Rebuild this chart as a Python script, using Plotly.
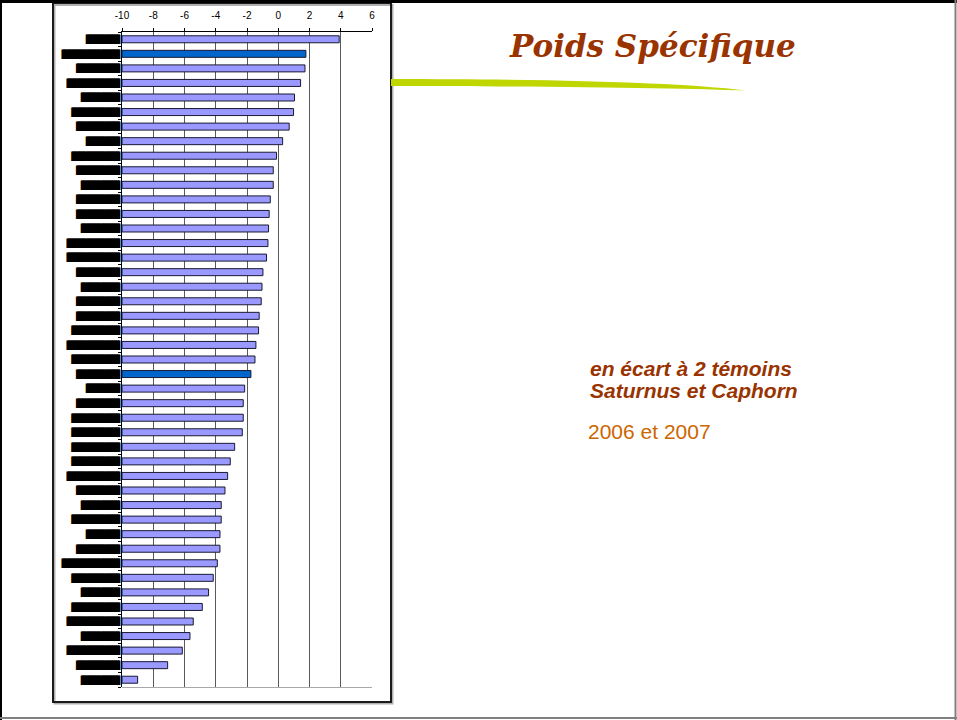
import plotly.graph_objects as go

# ---------------- data ----------------
ids = [f"V{i:02d}" for i in range(1, 46)]
values = [3.90, 1.77, 1.71, 1.43, 1.04, 0.98, 0.70, 0.28, -0.11, -0.32,
          -0.32, -0.51, -0.58, -0.62, -0.66, -0.75, -0.98, -1.04, -1.09, -1.22,
          -1.26, -1.43, -1.49, -1.75, -2.15, -2.24, -2.24, -2.30, -2.79, -3.07,
          -3.24, -3.41, -3.65, -3.65, -3.73, -3.73, -3.90, -4.16, -4.46, -4.86,
          -5.44, -5.65, -6.14, -7.08, -9.00]
# redacted variety names (shown as black blocks in the original)
labels = ["███████", "████████████", "█████████", "███████████", "████████",
          "██████████", "█████████", "███████", "██████████", "█████████",
          "████████", "█████████", "█████████", "████████", "███████████",
          "███████████", "█████████", "████████", "█████████", "█████████",
          "██████████", "███████████", "██████████", "█████████", "███████",
          "█████████", "██████████", "██████████", "██████████", "██████████",
          "███████████", "█████████", "████████", "██████████", "███████",
          "█████████", "████████████", "██████████", "████████", "██████████",
          "███████████", "████████", "███████████", "█████████", "████████"]
temoins = ["V02", "V24"]   # Saturnus / Caphorn (control varieties)
x_ticks = [-10, -8, -6, -4, -2, 0, 2, 4, 6]

AXIS_MIN, AXIS_MAX = -10, 6
W, H = 957, 720

def px(x):
    return x / W

def py(y):
    return 1 - y / H

LIGHT = "#9999FF"
DARK = "#0066CC"
colors = [DARK if i in temoins else LIGHT for i in ids]

fig = go.Figure()
fig.add_trace(go.Bar(
    y=ids,
    x=[v - AXIS_MIN for v in values],
    base=AXIS_MIN,
    orientation="h",
    marker=dict(color=colors, line=dict(color="#1a1a33", width=1)),
    hoverinfo="skip",
))

shapes = []
# page frame
shapes.append(dict(type="rect", xref="paper", yref="paper", x0=px(0), x1=px(957),
                   y0=py(0), y1=py(3), fillcolor="black", line=dict(width=0), layer="above"))
shapes.append(dict(type="line", xref="paper", yref="paper", x0=px(1), x1=px(1),
                   y0=py(0), y1=py(720), line=dict(color="black", width=2)))
shapes.append(dict(type="line", xref="paper", yref="paper", x0=px(955.5), x1=px(955.5),
                   y0=py(0), y1=py(720), line=dict(color="#808080", width=2)))
shapes.append(dict(type="line", xref="paper", yref="paper", x0=px(0), x1=px(957),
                   y0=py(718), y1=py(718), line=dict(color="#808080", width=2)))
# chart frame (with light shadow)
shapes.append(dict(type="rect", xref="paper", yref="paper", x0=px(54.5), x1=px(392.5),
                   y0=py(5), y1=py(703.5), line=dict(color="#b0b0b0", width=2), layer="below"))
shapes.append(dict(type="rect", xref="paper", yref="paper", x0=px(53), x1=px(391),
                   y0=py(3), y1=py(702), line=dict(color="#1a1a1a", width=2), layer="below"))
# light bottom edge of the plot area
shapes.append(dict(type="line", xref="paper", yref="paper", x0=px(122), x1=px(372),
                   y0=py(687.5), y1=py(687.5), line=dict(color="#a8a8a8", width=1)))

# green swoosh under the title
pts_top = [(391, 79), (560, 79.2), (680, 82.5), (746, 90.5)]
pts_bot = [(746, 90.5), (690, 88.5), (560, 86.2), (391, 86)]
def P(p):
    return f"{px(p[0]):.5f},{py(p[1]):.5f}"
path = (f"M {P(pts_top[0])} C {P(pts_top[1])} {P(pts_top[2])} {P(pts_top[3])} "
        f"C {P(pts_bot[1])} {P(pts_bot[2])} {P(pts_bot[3])} Z")
shapes.append(dict(type="path", xref="paper", yref="paper", path=path,
                   fillcolor="#BFD600", line=dict(width=0)))

annotations = [
    dict(text="Poids Spécifique", x=px(652), y=py(46), xref="paper", yref="paper",
         xanchor="center", yanchor="middle", showarrow=False,
         font=dict(family="DejaVu Serif", size=31, color="#993300",
                   style="italic", weight="bold")),
    dict(text="<b><i>en écart à 2 témoins</i></b>", x=px(588), y=py(368), xref="paper", yref="paper",
         xanchor="left", yanchor="middle", showarrow=False,
         font=dict(family="Liberation Sans", size=21, color="#993300")),
    dict(text="<b><i>Saturnus et Caphorn</i></b>", x=px(588), y=py(390), xref="paper", yref="paper",
         xanchor="left", yanchor="middle", showarrow=False,
         font=dict(family="Liberation Sans", size=21, color="#993300")),
    dict(text="2006 et 2007", x=px(586), y=py(431), xref="paper", yref="paper",
         xanchor="left", yanchor="middle", showarrow=False,
         font=dict(family="Liberation Sans", size=21, color="#CC6600")),
]

fig.update_layout(
    width=W, height=H,
    margin=dict(l=0, r=0, t=0, b=0, pad=0),
    paper_bgcolor="white", plot_bgcolor="white",
    showlegend=False,
    bargap=0.52,
    shapes=shapes,
    annotations=annotations,
    xaxis=dict(
        domain=[px(122), px(372)],
        range=[AXIS_MIN, AXIS_MAX],
        side="top",
        automargin=False,
        tickmode="array", tickvals=x_ticks, ticktext=[str(t) for t in x_ticks],
        showgrid=True, gridcolor="#5a5a5a", gridwidth=1,
        zeroline=False,
        showline=True, linecolor="black", linewidth=1,
        ticks="outside", ticklen=3, tickcolor="black",
        tickfont=dict(family="Liberation Sans", size=10, color="black"),
        ticklabelstandoff=5,
        fixedrange=True,
    ),
    yaxis=dict(
        domain=[py(687), py(32)],
        type="category",
        automargin=False,
        categoryorder="array", categoryarray=ids,
        autorange="reversed",
        tickmode="array", tickvals=ids, ticktext=labels,
        tickfont=dict(family="DejaVu Sans Mono", size=8, color="black",
                      shadow="1px 0px 0px black"),
        ticks="outside", tickson="boundaries", ticklen=3, tickcolor="black",
        showline=True, linecolor="black", linewidth=1,
        showgrid=False, zeroline=False,
        ticklabelstandoff=0,
        fixedrange=True,
    ),
)

fig.write_html(
    "out.html",
    config={"displayModeBar": False},
    post_script="document.body.style.margin='0px';document.body.style.overflow='hidden';",
)
